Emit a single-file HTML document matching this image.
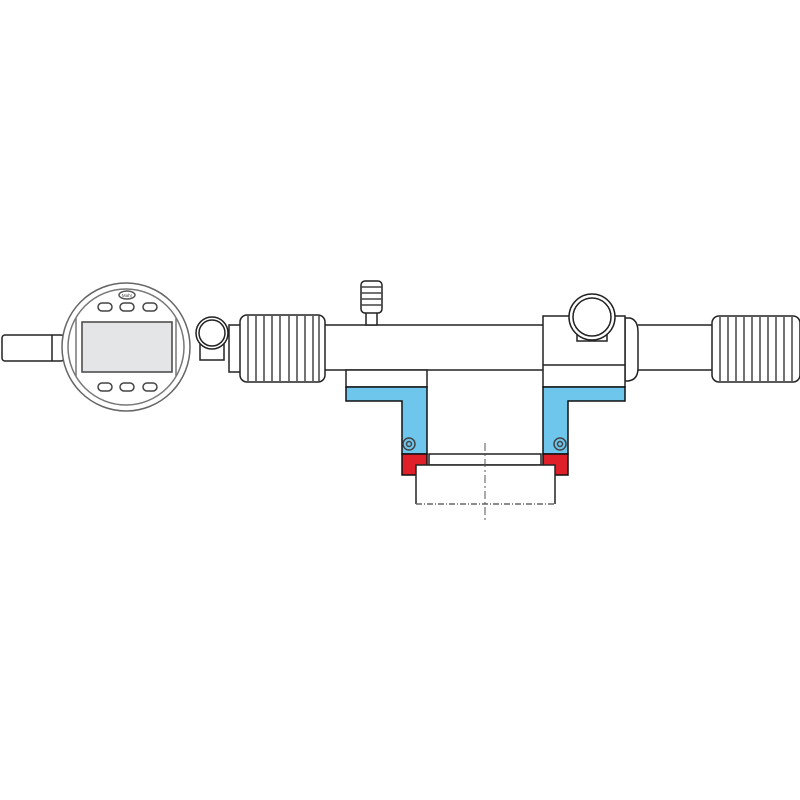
<!DOCTYPE html>
<html><head><meta charset="utf-8"><style>html,body{margin:0;padding:0;background:#fff}svg{display:block}</style></head>
<body>
<svg width="800" height="800" viewBox="0 0 800 800" xmlns="http://www.w3.org/2000/svg" fill="none" stroke="#222" stroke-width="1.5">
<rect width="800" height="800" fill="#fff" stroke="none"/>
<!-- left stem -->
<rect x="2" y="335" width="62" height="26" rx="3" fill="#fff"/>
<line x1="52" y1="335" x2="52" y2="361"/>
<!-- dial -->
<circle cx="126" cy="347" r="64" fill="#fff" stroke="#666"/>
<circle cx="126" cy="347" r="58" fill="#fff" stroke="#777"/>
<line x1="76" y1="318" x2="76" y2="376" stroke="#777"/>
<line x1="176" y1="318" x2="176" y2="376" stroke="#777"/>
<rect x="82" y="322" width="90" height="50" fill="#e3e5e6" stroke="#444"/>
<ellipse cx="127" cy="295" rx="8" ry="4" stroke="#555"/>
<text x="127" y="297" font-family="Liberation Sans, sans-serif" font-size="4.5" text-anchor="middle" fill="#444" stroke="none">Mahr</text>
<g stroke="#444">
<rect x="98" y="303" width="14" height="8" rx="4"/><rect x="120" y="303" width="14" height="8" rx="4"/><rect x="143" y="303" width="14" height="8" rx="4"/>
<rect x="98" y="383" width="14" height="8" rx="4"/><rect x="120" y="383" width="14" height="8" rx="4"/><rect x="143" y="383" width="14" height="8" rx="4"/>
</g>
<!-- clamp -->
<rect x="200" y="343" width="24" height="17" fill="#fff"/>
<circle cx="212" cy="333" r="16" fill="#fff"/>
<circle cx="212" cy="333" r="13"/>
<circle cx="233" cy="348" r="2"/>
<!-- main tube -->
<path d="M323 325 L545 325 M323 370 L545 370" />
<rect x="229" y="325" width="13" height="47" fill="#fff"/>
<!-- left knurl -->
<rect x="240" y="315" width="85" height="67" rx="7" fill="#fff"/>
<g stroke="#444">
<line x1="248" y1="316" x2="248" y2="381"/><line x1="256" y1="316" x2="256" y2="381"/><line x1="264" y1="316" x2="264" y2="381"/><line x1="272" y1="316" x2="272" y2="381"/><line x1="280" y1="316" x2="280" y2="381"/><line x1="289" y1="316" x2="289" y2="381"/><line x1="297" y1="316" x2="297" y2="381"/><line x1="305" y1="316" x2="305" y2="381"/><line x1="313" y1="316" x2="313" y2="381"/><line x1="319" y1="316" x2="319" y2="381"/>
</g>
<!-- screw -->
<rect x="366" y="312" width="11" height="13" fill="#fff"/>
<rect x="361" y="281" width="21" height="32" rx="4" fill="#fff"/>
<g stroke="#444"><line x1="361" y1="287" x2="382" y2="287"/><line x1="361" y1="293" x2="382" y2="293"/><line x1="361" y1="299" x2="382" y2="299"/><line x1="361" y1="305" x2="382" y2="305"/></g>
<!-- white block above left blue -->
<rect x="346" y="370" width="81" height="17" fill="#fff"/>
<!-- right tube -->
<path d="M638 325 L712 325 M638 370 L712 370"/>
<path d="M625 318 L630 318 Q638 320 638 332 L638 368 Q638 380 628 381 L625 381 Z" fill="#fff"/>
<rect x="543" y="316" width="82" height="71" fill="#fff"/>
<line x1="543" y1="365" x2="625" y2="365"/>
<rect x="577" y="333" width="30" height="8" fill="#fff"/>
<circle cx="592" cy="317" r="23" fill="#fff"/>
<circle cx="592" cy="317" r="19"/>
<!-- right knurl -->
<rect x="712" y="316" width="88" height="66" rx="7" fill="#fff"/>
<g stroke="#444">
<line x1="720" y1="317" x2="720" y2="381"/><line x1="728" y1="317" x2="728" y2="381"/><line x1="736" y1="317" x2="736" y2="381"/><line x1="744" y1="317" x2="744" y2="381"/><line x1="752" y1="317" x2="752" y2="381"/><line x1="760" y1="317" x2="760" y2="381"/><line x1="768" y1="317" x2="768" y2="381"/><line x1="776" y1="317" x2="776" y2="381"/><line x1="784" y1="317" x2="784" y2="381"/><line x1="792" y1="317" x2="792" y2="381"/>
</g>
<!-- blue jaws -->
<path d="M346 387 L427 387 L427 454 L402 454 L402 401 L346 401 Z" fill="#6ec6ec" stroke="#111"/>
<path d="M543 387 L625 387 L625 401 L568 401 L568 454 L543 454 Z" fill="#6ec6ec" stroke="#111"/>
<circle cx="409" cy="444" r="6" stroke="#444"/><circle cx="409" cy="444" r="2.5" stroke="#444"/>
<circle cx="560" cy="444" r="6" stroke="#444"/><circle cx="560" cy="444" r="2.5" stroke="#444"/>
<!-- red tips -->
<rect x="402" y="454" width="25" height="21" fill="#e02028" stroke="#111"/>
<rect x="543" y="454" width="25" height="21" fill="#e02028" stroke="#111"/>
<!-- workpiece -->
<rect x="429" y="454" width="112" height="11" fill="#fff"/>
<path d="M416 504 L416 465 L555 465 L555 504" fill="#fff"/>
<path d="M416 504 L555 504" stroke="#666" stroke-dasharray="6 2 1 2"/>
<line x1="485" y1="443" x2="485" y2="520" stroke="#555" stroke-width="1" stroke-dasharray="8 3 2 3"/>
</svg>
</body></html>
